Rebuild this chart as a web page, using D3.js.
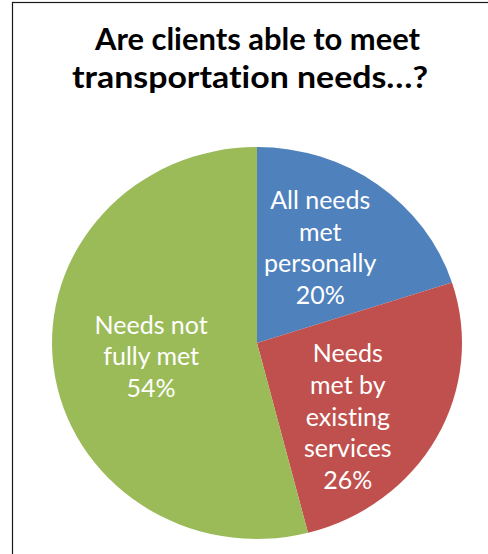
<!DOCTYPE html>
<html>
<head>
<meta charset="utf-8">
<script src="https://cdn.jsdelivr.net/npm/d3@7"></script>
<style>
html,body{margin:0;padding:0;background:#fff;}
svg{display:block;}
text{font-variant-ligatures:none;font-feature-settings:"liga" 0;}
</style>
</head>
<body>
<svg id="chart" width="488" height="554"></svg>
<script>
// ---- data ----
const titleLines = ["Are clients able to meet", "transportation needs…?"];
const categories = ["All needs met personally", "Needs met by existing services", "Needs not fully met"];
const labelLines = [["All needs", "met", "personally"], ["Needs", "met by", "existing", "services"], ["Needs not", "fully met"]];
const values = [20, 26, 54];
const colors = ["#4F81BD", "#C0504D", "#9BBB59"];

// ---- layout ----
const cx = 257, cy = 343, rx = 205, ry = 196;
const svg = d3.select("#chart");

// frame
svg.append("rect").attr("x", 12.5).attr("y", 2.5).attr("width", 520).attr("height", 600)
  .attr("fill", "none").attr("stroke", "#1a1a1a").attr("stroke-width", 1.2);

// title
const titleW = [325, 356];
const titleX = [257.5, 250];
const titleY = [50, 88];
const tg = svg.append("g");
titleLines.forEach((t, i) => {
  tg.append("text").attr("x", titleX[i]).attr("y", titleY[i])
    .attr("text-anchor", "middle")
    .attr("font-family", "Lato, 'Open Sans', sans-serif")
    .attr("font-weight", "bold").attr("font-size", 30).attr("fill", "#000")
    .attr("textLength", titleW[i]).attr("lengthAdjust", "spacingAndGlyphs")
    .text(t);
});

// pie
const data = categories.map((c, i) => ({cat: c, value: values[i], color: colors[i], lines: labelLines[i]}));
const pie = d3.pie().value(d => d.value).sort(null);
const arcs = pie(data);
const arc = d3.arc().innerRadius(0).outerRadius(rx);
const pg = svg.append("g").attr("transform", `translate(${cx},${cy}) scale(1,${ry / rx})`);
pg.selectAll("path").data(arcs).join("path")
  .attr("d", arc).attr("fill", d => d.data.color);

// labels
const labelArc = d3.arc().innerRadius(rx * 0.55).outerRadius(rx * 0.55);
const offsets = [[-3, -8], [-8, 22], [6, 0]];
const lh = 31.7, capH = 17.5;
const lg = svg.append("g");
arcs.forEach((a, i) => {
  const c = labelArc.centroid(a);
  const x = cx + c[0] + offsets[i][0];
  const y = cy + c[1] * ry / rx + offsets[i][1];
  const lines = a.data.lines.concat([d3.format(".0%")(a.data.value / 100)]);
  const n = lines.length;
  const y0 = y - (n - 1) * lh / 2 + capH / 2;
  lines.forEach((l, j) => {
    lg.append("text").attr("x", x).attr("y", y0 + j * lh)
      .attr("text-anchor", "middle")
      .attr("font-family", "Lato, 'Open Sans', sans-serif")
      .attr("font-size", 25).attr("fill", "#fff")
      .text(l);
  });
});
</script>
</body>
</html>
